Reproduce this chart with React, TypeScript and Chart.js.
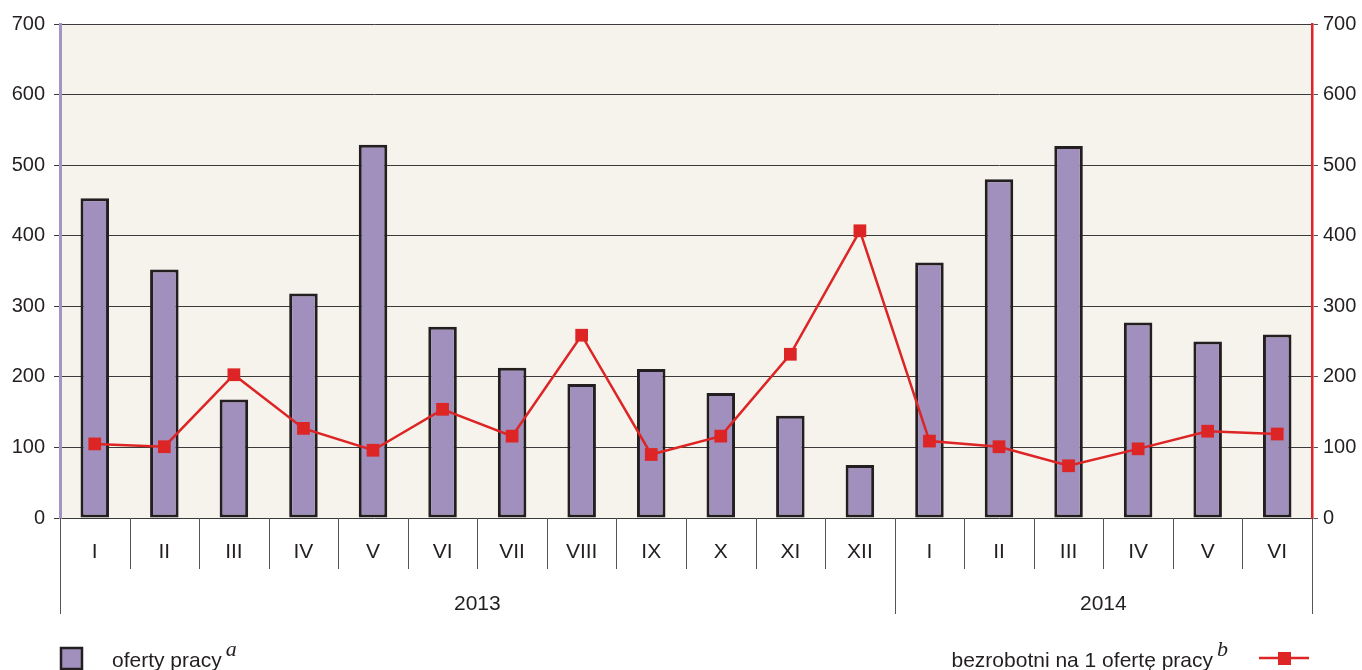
import React, { useEffect, useRef } from "react";
import { Chart, registerables } from "chart.js";

Chart.register(...registerables);

const months = ["I", "II", "III", "IV", "V", "VI", "VII", "VIII", "IX", "X", "XI", "XII", "I", "II", "III", "IV", "V", "VI"];
const years = ["2013", "2014"];
const monthsPerYear = [12, 6];
const offers = [453, 352, 168, 318, 529, 271, 213, 190, 211, 177, 145, 75, 362, 480, 527, 277, 250, 260];
const unemployedPerOffer = [105, 101, 203, 127, 96, 154, 116, 259, 90, 116, 232, 407, 109, 101, 74, 98, 123, 119];
const yTicksMax = 700;
const yStep = 100;
const legendBar = "oferty pracy";
const legendBarSup = "a";
const legendLine = "bezrobotni na 1 ofertę pracy";
const legendLineSup = "b";

const FONT = "'Liberation Sans', Arial, sans-serif";
const SERIF = "'Liberation Serif', 'DejaVu Serif', serif";
const TEXT = "#231F20";
const BAR = "#A190BD";
const RED = "#DC2524";
const PLOT_BG = "#F6F2EC";

const bgPlugin = {
  id: "plotBg",
  beforeDraw(chart: any) {
    const { ctx, chartArea: a } = chart;
    ctx.save();
    ctx.fillStyle = PLOT_BG;
    ctx.fillRect(a.left, a.top, a.right - a.left, a.bottom - a.top);
    ctx.restore();
  },
};

const axisPlugin = {
  id: "customAxis",
  afterDraw(chart: any) {
    const { ctx, chartArea: a } = chart;
    const x = chart.scales.x;
    const n = months.length;
    const step = (a.right - a.left) / n;
    ctx.save();
    ctx.strokeStyle = "#555";
    ctx.lineWidth = 1;
    for (let i = 0; i <= n; i++) {
      const px = Math.round(a.left + i * step) + 0.5;
      ctx.beginPath();
      ctx.moveTo(px, a.bottom);
      ctx.lineTo(px, a.bottom + 51);
      ctx.stroke();
    }
    let idx = 0;
    const bounds = [0];
    monthsPerYear.forEach((m) => {
      idx += m;
      bounds.push(idx);
    });
    bounds.forEach((b) => {
      const px = Math.round(a.left + b * step) + 0.5;
      ctx.beginPath();
      ctx.moveTo(px, a.bottom);
      ctx.lineTo(px, a.bottom + 96);
      ctx.stroke();
    });
    ctx.fillStyle = TEXT;
    ctx.font = `21px ${FONT}`;
    ctx.textAlign = "center";
    ctx.textBaseline = "middle";
    months.forEach((m, i) => {
      ctx.fillText(m, x.getPixelForValue(i), a.bottom + 34);
    });
    years.forEach((y, j) => {
      const cx = a.left + ((bounds[j] + bounds[j + 1]) / 2) * step;
      ctx.fillText(y, cx, a.bottom + 86);
    });

    // legend
    const ly = 658;
    ctx.fillStyle = BAR;
    ctx.fillRect(61, 648, 21, 21);
    ctx.strokeStyle = "#231F20";
    ctx.lineWidth = 2.5;
    ctx.strokeRect(61, 648, 21, 21);
    ctx.fillStyle = TEXT;
    ctx.textAlign = "left";
    ctx.textBaseline = "alphabetic";
    ctx.font = `21px ${FONT}`;
    ctx.fillText(legendBar, 112, 667);
    let w = ctx.measureText(legendBar).width;
    ctx.font = `italic 22px ${SERIF}`;
    ctx.fillText(legendBarSup, 112 + w + 4, 656);

    ctx.font = `21px ${FONT}`;
    w = ctx.measureText(legendLine).width;
    const lx = 1213 - w;
    ctx.fillText(legendLine, lx, 667);
    ctx.font = `italic 22px ${SERIF}`;
    ctx.fillText(legendLineSup, 1217, 656);

    ctx.strokeStyle = RED;
    ctx.lineWidth = 2.5;
    ctx.beginPath();
    ctx.moveTo(1259, ly);
    ctx.lineTo(1309, ly);
    ctx.stroke();
    ctx.fillStyle = RED;
    ctx.fillRect(1278, ly - 6, 13, 13);
    ctx.restore();
  },
};

export default function App() {
  const ref = useRef<HTMLCanvasElement | null>(null);

  useEffect(() => {
    document.body.style.margin = "0";
    document.body.style.overflow = "hidden";
    const canvas = ref.current;
    if (!canvas) return;
    const chart = new Chart(canvas, {
      type: "bar",
      data: {
        labels: months.map((m, i) => `${m}-${i}`),
        datasets: [
          {
            type: "line",
            label: legendLine,
            data: unemployedPerOffer,
            yAxisID: "y1",
            borderColor: RED,
            backgroundColor: RED,
            borderWidth: 2.5,
            pointStyle: "rect",
            pointRadius: 9,
            pointBorderWidth: 0,
            pointBackgroundColor: RED,
            tension: 0,
            order: 0,
          } as any,
          {
            type: "bar",
            label: legendBar,
            data: offers,
            yAxisID: "y",
            backgroundColor: BAR,
            borderColor: "#231F20",
            borderWidth: 3,
            borderSkipped: false,
            barPercentage: 0.41,
            categoryPercentage: 1,
            order: 1,
          } as any,
        ],
      },
      options: {
        responsive: false,
        animation: false,
        layout: { padding: { top: 24, bottom: 152, left: 0, right: 0 } },
        plugins: {
          legend: { display: false },
          tooltip: { enabled: false },
        },
        scales: {
          x: {
            display: false,
            offset: true,
          },
          y: {
            position: "left",
            min: 0,
            max: yTicksMax,
            ticks: {
              stepSize: yStep,
              color: TEXT,
              font: { family: FONT, size: 20 },
              padding: 9,
            },
            grid: { color: "#3A3A3A", lineWidth: 1, tickLength: 6, drawTicks: true },
            border: { color: "#A494C4", width: 3 },
            afterFit(scale: any) {
              scale.width = 60;
            },
          },
          y1: {
            position: "right",
            min: 0,
            max: yTicksMax,
            ticks: {
              stepSize: yStep,
              color: TEXT,
              font: { family: FONT, size: 20 },
              padding: 5,
            },
            grid: { drawOnChartArea: false, color: "#555", tickLength: 6 },
            border: { color: RED, width: 2.5 },
            afterFit(scale: any) {
              scale.width = 50;
            },
          },
        } as any,
      },
      plugins: [bgPlugin, axisPlugin],
    });
    return () => chart.destroy();
  }, []);

  return (
    <div style={{ width: 1362, height: 670 }}>
      <canvas ref={ref} width={1362} height={670} style={{ display: "block" }} />
    </div>
  );
}
